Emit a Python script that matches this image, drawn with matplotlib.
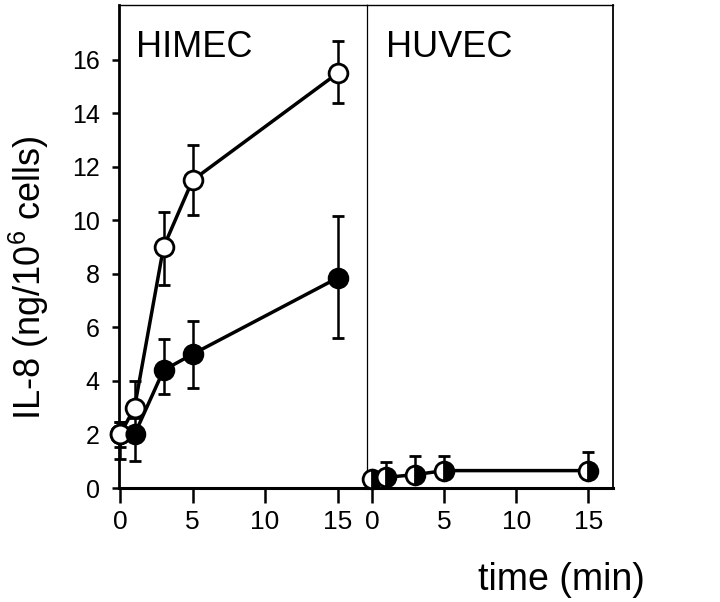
import matplotlib
matplotlib.use("Agg")
import matplotlib.pyplot as plt
import numpy as np

plt.rcParams['font.family'] = ['Liberation Sans', 'DejaVu Sans']
plt.rcParams['mathtext.fontset'] = 'custom'
plt.rcParams['mathtext.rm'] = 'Liberation Sans'
plt.rcParams['mathtext.default'] = 'regular'

# データ
time = [0, 1, 3, 5, 15]
himec_open = [2.0, 3.0, 9.0, 11.5, 15.5]
himec_open_err_lo = [0.45, 0.3, 1.4, 1.3, 1.1]
himec_open_err_hi = [0.45, 1.0, 1.3, 1.3, 1.2]
himec_fill = [2.0, 2.0, 4.4, 5.0, 7.85]
himec_fill_err_lo = [0.9, 1.0, 0.9, 1.25, 2.25]
himec_fill_err_hi = [0.45, 0.6, 1.15, 1.25, 2.3]
huvec = [0.35, 0.4, 0.5, 0.65, 0.65]
huvec_err_hi = [0.0, 0.57, 0.7, 0.55, 0.7]
huvec_err_lo = [0.0, 0.0, 0.0, 0.0, 0.0]
xticks = [0, 5, 10, 15]
yticks = [0, 2, 4, 6, 8, 10, 12, 14, 16]

W, H = 720, 602
fig = plt.figure(figsize=(7.2, 6.02), dpi=100)
bottom = 1 - 488 / H
height = (488 - 5) / H
ax1 = fig.add_axes([119 / W, bottom, (367 - 119) / W, height])
ax2 = fig.add_axes([367 / W, bottom, (613 - 367) / W, height])

ms = 13.5
mk = dict(marker='o', markersize=ms, markeredgewidth=2.0, markeredgecolor='black',
          color='black', linewidth=2.5, elinewidth=1.8, capsize=4.5, capthick=2.2)


def noclip(cont):
    for art in cont.get_children():
        art.set_clip_on(False)


# HIMEC
noclip(ax1.errorbar(time, himec_fill, yerr=[himec_fill_err_lo, himec_fill_err_hi],
                    markerfacecolor='black', zorder=3, **mk))
noclip(ax1.errorbar(time, himec_open, yerr=[himec_open_err_lo, himec_open_err_hi],
                    markerfacecolor='white', zorder=4, **mk))
ax1.plot(time[1:], himec_fill[1:], linestyle='none', marker='o', markersize=ms,
         markerfacecolor='black', markeredgecolor='black', zorder=5)

# HUVEC
noclip(ax2.errorbar(time, huvec, yerr=[huvec_err_lo, huvec_err_hi], fillstyle='right',
                    markerfacecolor='black', markerfacecoloralt='white', zorder=3, **mk))

for ax in (ax1, ax2):
    ax.set_ylim(0, 18.05)
    ax.set_xticks(xticks)
    ax.tick_params(axis='x', direction='out', length=11, width=1.8, pad=5, labelsize=19)
    ax.spines['bottom'].set_linewidth(2.2)
    ax.spines['top'].set_linewidth(1.0)

ax1.set_xlim(-0.07, 17.03)
ax2.set_xlim(-0.35, 16.7)

ax1.set_yticks(yticks)
ax1.tick_params(axis='y', direction='out', length=5, width=1.8, pad=9, labelsize=18)
ax1.spines['left'].set_linewidth(2.0)
ax1.spines['right'].set_visible(False)
ax2.set_yticks([])
ax2.spines['left'].set_linewidth(0.9)
ax2.spines['right'].set_linewidth(1.3)

ax1.text(1.1, 16.1, 'HIMEC', fontsize=26, va='baseline', ha='left')
ax2.text(0.97, 16.1, 'HUVEC', fontsize=26, va='baseline', ha='left')

fig.text(29 / W, 1 - 278 / H, 'IL-8 (ng/10$^6$ cells)', rotation=90,
         fontsize=26, ha='center', va='center')
fig.text(561 / W, 12 / H, 'time (min)', fontsize=27, ha='center', va='baseline')

fig.savefig('out.png', dpi=100)
